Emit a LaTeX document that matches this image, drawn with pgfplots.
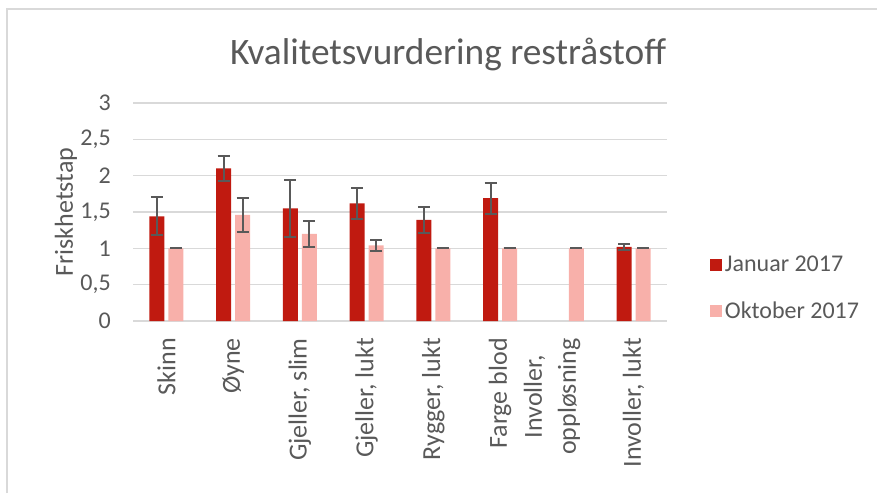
\documentclass[border=0pt]{standalone}
\usepackage{pgfplots}
\pgfplotsset{compat=1.18}
\usepackage{fontspec}
\setmainfont{Carlito}
\definecolor{txt}{HTML}{595959}
\definecolor{gridc}{HTML}{D9D9D9}
\definecolor{jan}{RGB}{192,26,16}
\definecolor{okt}{RGB}{248,176,170}
\begin{document}
\begin{tikzpicture}[x=1pt,y=1pt]
\useasboundingbox (0,0) rectangle (657.75,369.75);
\draw[gridc, line width=1.1pt] (5.25,0) -- (5.25,363) -- (657.75,363);
\node[txt, font=\fontsize{28}{32}\selectfont] at (336,329) {Kvalitetsvurdering restråstoff};
\node[txt, rotate=90, font=\fontsize{19.5}{23}\selectfont] at (49.5,210.75) {Friskhetstap};
\begin{axis}[
  at={(99.75pt,129pt)}, anchor=south west,
  scale only axis, width=400.5pt, height=163.5pt,
  xmin=-0.5, xmax=7.5, ymin=0, ymax=3,
  ytick={0,0.5,1,1.5,2,2.5,3},
  xtick={0,1,2,3,4,5,6,7},
  xticklabels={Skinn,Øyne,{Gjeller, slim},{Gjeller, lukt},{Rygger, lukt},{Farge blod},{Involler,\\oppløsning\\\mbox{}},{Involler, lukt}},
  xticklabel style={rotate=90, anchor=east, align=center, inner sep=0pt, font=\fontsize{19.5}{25.5}\selectfont, text=txt},
  xticklabel shift=12.75pt,
  yticklabel style={anchor=east, inner sep=0pt, font=\fontsize{18}{22}\selectfont, text=txt},
  yticklabel shift=16.5pt,
  /pgf/number format/use comma, /pgf/number format/assume math mode=true,
  major tick length=0pt, tick style={draw=none},
  axis line style={draw=none},
  xmajorgrids=false, ymajorgrids=true, major grid style={gridc, line width=1.1pt},
  ybar, bar width=11.25pt,
  legend style={at={(rel axis cs:1.0805,0.151)}, anchor=west, draw=none, fill=none, inner sep=0pt, row sep=17pt, font=\fontsize{18}{22}\selectfont, text=txt},
  legend cell align=left,
  legend image code/.code={\fill[#1] (0pt,-4.5pt) rectangle (9pt,4.5pt);},
  error bars/error bar style={color=txt, line width=1.5pt},
  error bars/error mark options={rotate=90, mark size=4.5pt, color=txt, line width=1.5pt},
]
\addplot[draw=none, fill=jan, bar shift=-7.1pt, error bars/.cd, y dir=both, y explicit] coordinates {
  (0,1.44) +- (0,0.26)
  (1,2.10) +- (0,0.17)
  (2,1.55) +- (0,0.39)
  (3,1.62) +- (0,0.21)
  (4,1.39) +- (0,0.18)
  (5,1.69) +- (0,0.215)
  (7,1.02) +- (0,0.04)
};
\addlegendentry{Januar 2017}
\addplot[draw=none, fill=okt, bar shift=7.1pt, error bars/.cd, y dir=both, y explicit] coordinates {
  (0,1.00) +- (0,0)
  (1,1.46) +- (0,0.235)
  (2,1.20) +- (0,0.18)
  (3,1.04) +- (0,0.08)
  (4,1.00) +- (0,0)
  (5,1.00) +- (0,0)
  (6,1.00) +- (0,0)
  (7,1.00) +- (0,0)
};
\addlegendentry{Oktober 2017}
\end{axis}
\end{tikzpicture}
\end{document}
